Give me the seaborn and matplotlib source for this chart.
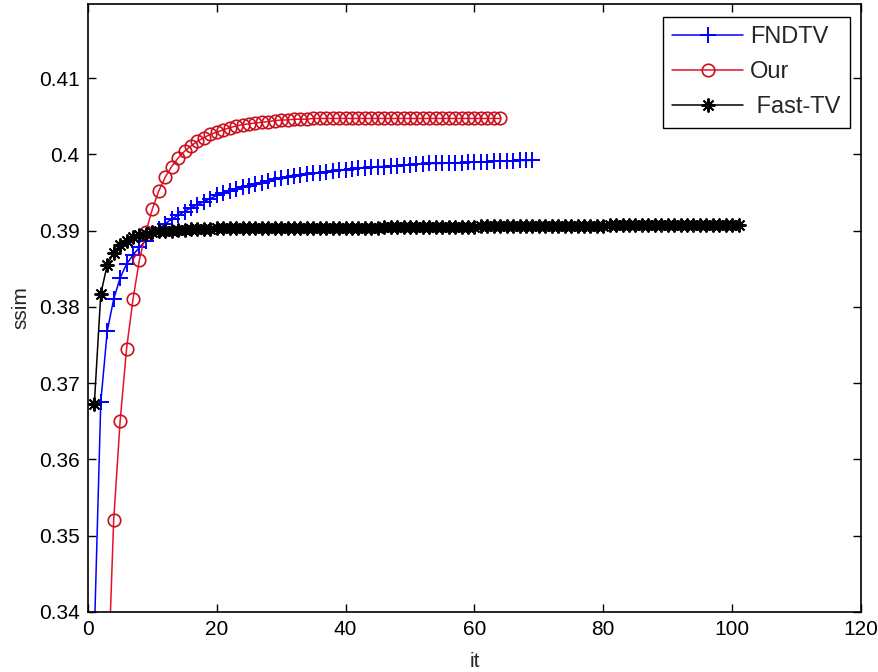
import numpy as np
import pandas as pd
import matplotlib
matplotlib.use("Agg")
import matplotlib.pyplot as plt
import seaborn as sns

# ssim per iteration
fndtv = [
    0.3370, 0.3675, 0.3768, 0.3810, 0.3838, 0.3856, 0.3868, 0.3878, 0.3887, 0.3895,
    0.3902, 0.3909, 0.3915, 0.3920, 0.3925, 0.3930, 0.3934, 0.3938, 0.3942, 0.3946,
    0.3949, 0.3952, 0.3955, 0.3957, 0.3959, 0.3961, 0.3963, 0.3965, 0.3967, 0.3969,
    0.3970, 0.3972, 0.3973, 0.3974, 0.3975, 0.3976, 0.3977, 0.3978, 0.3979, 0.3980,
    0.3981, 0.3982, 0.3982, 0.3983, 0.3984, 0.3984, 0.3985, 0.3985, 0.3986, 0.3986,
    0.3987, 0.3987, 0.3988, 0.3988, 0.3988, 0.3989, 0.3989, 0.3989, 0.3990, 0.3990,
    0.3990, 0.3990, 0.3991, 0.3991, 0.3991, 0.3991, 0.3992, 0.3992, 0.3992,
]
our = [
    0.2620, 0.3000, 0.3280, 0.3520, 0.3650, 0.3745, 0.3810, 0.3862, 0.3898, 0.3928,
    0.3952, 0.3970, 0.3984, 0.3995, 0.4004, 0.4011, 0.4017, 0.4022, 0.4026, 0.4029,
    0.4032, 0.4035, 0.4037, 0.4039, 0.4040, 0.4041, 0.4042, 0.4043, 0.4044, 0.4045,
    0.4045, 0.4046, 0.4046, 0.4046, 0.4047, 0.4047, 0.4047, 0.4047, 0.4047, 0.4047,
    0.4047, 0.4047, 0.4047, 0.4047, 0.4047, 0.4047, 0.4047, 0.4047, 0.4047, 0.4047,
    0.4047, 0.4047, 0.4047, 0.4047, 0.4047, 0.4047, 0.4047, 0.4047, 0.4047, 0.4047,
    0.4047, 0.4047, 0.4047, 0.4047,
]
fast_tv = [
    0.3673, 0.3817, 0.3855, 0.3871, 0.3881, 0.3887, 0.3891, 0.3894, 0.3896, 0.3898,
    0.3899, 0.3900, 0.3900, 0.3901, 0.3901, 0.3902, 0.3902, 0.3902, 0.3902, 0.3903,
    0.3903, 0.3903, 0.3903, 0.3903, 0.3903, 0.3903, 0.3903, 0.3903, 0.3903, 0.3903,
    0.3904, 0.3904, 0.3904, 0.3904, 0.3904, 0.3904, 0.3904, 0.3904, 0.3904, 0.3904,
    0.3904, 0.3904, 0.3904, 0.3904, 0.3904, 0.3905, 0.3905, 0.3905, 0.3905, 0.3905,
    0.3905, 0.3905, 0.3905, 0.3905, 0.3905, 0.3905, 0.3905, 0.3905, 0.3905, 0.3905,
    0.3906, 0.3906, 0.3906, 0.3906, 0.3906, 0.3906, 0.3906, 0.3906, 0.3906, 0.3906,
    0.3906, 0.3906, 0.3906, 0.3906, 0.3906, 0.3906, 0.3906, 0.3906, 0.3906, 0.3906,
    0.3907, 0.3907, 0.3907, 0.3907, 0.3907, 0.3907, 0.3907, 0.3907, 0.3907, 0.3907,
    0.3907, 0.3907, 0.3907, 0.3907, 0.3907, 0.3907, 0.3907, 0.3907, 0.3907, 0.3907,
    0.3907,
]
x_ticks = [0, 20, 40, 60, 80, 100, 120]
y_ticks = [0.34, 0.35, 0.36, 0.37, 0.38, 0.39, 0.40, 0.41]
y_tick_labels = ["0.34", "0.35", "0.36", "0.37", "0.38", "0.39", "0.4", "0.41"]

sns.set_style("white")
plt.rcParams["font.family"] = ["Liberation Sans", "DejaVu Sans"]

df = pd.concat([
    pd.DataFrame({"it": np.arange(1, len(fndtv) + 1), "ssim": fndtv, "method": "FNDTV"}),
    pd.DataFrame({"it": np.arange(1, len(our) + 1), "ssim": our, "method": "Our"}),
    pd.DataFrame({"it": np.arange(1, len(fast_tv) + 1), "ssim": fast_tv, "method": " Fast-TV"}),
])

# matlab style markers: '+', open 'o', asterisk '*'
styles = {
    "FNDTV": dict(color="#0000ff", marker="+", markersize=11, markerfacecolor="#0000ff",
                  markeredgecolor="#0000ff", markeredgewidth=1.4),
    "Our": dict(color="#e8102a", marker="o", markersize=9, markerfacecolor="none",
                markeredgecolor="#c8101e", markeredgewidth=1.2),
    " Fast-TV": dict(color="black", marker=(8, 2, 0), markersize=10, markerfacecolor="black",
                     markeredgecolor="black", markeredgewidth=1.4),
}

fig = plt.figure(figsize=(8.79, 6.72), dpi=100)
ax = fig.add_axes([0.1, 0.0893, 0.8795, 0.9047])

for name, kw in styles.items():
    sub = df[df["method"] == name]
    sns.lineplot(data=sub, x="it", y="ssim", ax=ax, label=name, linewidth=1.1, **kw)

ax.set_xlim(0, 120)
ax.set_ylim(0.34, 0.4197)
ax.set_xticks(x_ticks)
ax.set_yticks(y_ticks)
ax.set_yticklabels(y_tick_labels)
ax.tick_params(direction="in", length=6, width=1, labelsize=15, top=True, right=True,
               bottom=True, left=True, colors="black", pad=6)
for s in ax.spines.values():
    s.set_visible(True)
    s.set_color("black")
    s.set_linewidth(1.2)

ax.set_xlabel("it", fontsize=15, labelpad=9)
ax.set_ylabel("ssim", fontsize=15, labelpad=6)

leg = ax.legend(loc="upper right", bbox_to_anchor=(0.986, 0.979), fontsize=17,
                frameon=True, fancybox=False, framealpha=1, edgecolor="black",
                handlelength=3.0, handletextpad=0.3, borderpad=0.4, labelspacing=0.55,
                borderaxespad=0)
leg.get_frame().set_linewidth(1.0)

fig.savefig("out.png", dpi=100)
